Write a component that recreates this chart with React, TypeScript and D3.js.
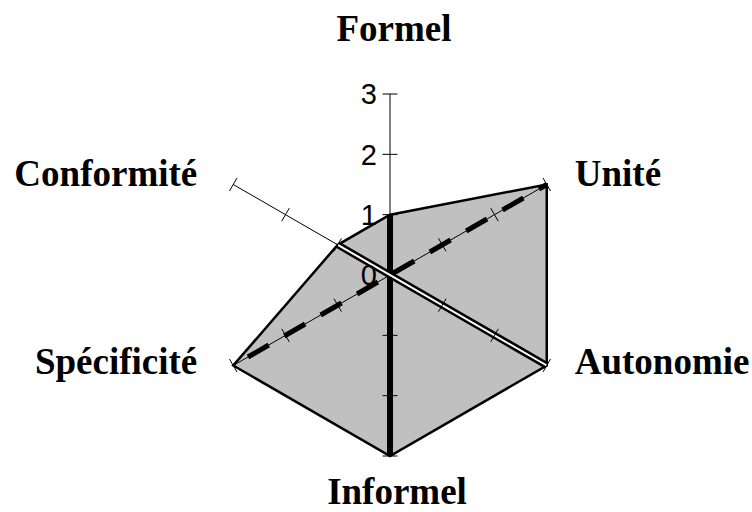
import React from 'react';
import * as d3 from 'd3';

// axes of the radar, clockwise from the top
const categories = ['Formel', 'Unité', 'Autonomie', 'Informel', 'Spécificité', 'Conformité'];
// filled area
const areaValues = [1, 3, 3, 3, 3, 1];
// value axis ticks
const tickValues = [0, 1, 2, 3];

// the three straight lines crossing the centre
const lineFrom = ['Formel', 'Conformité', 'Spécificité'];
const lineFromValues = [1, 1, 3];
const lineTo = ['Informel', 'Autonomie', 'Unité'];
const lineToValues = [3, 3, 3];
const lineKinds = ['solid', 'double', 'dashed'];

const W = 752;
const H = 512;
const cx = 390;
const cy = 275;
const R = 181;

const r = d3.scaleLinear().domain([0, 3]).range([0, R]);
const ang = d3.scaleLinear().domain([0, categories.length]).range([0, 2 * Math.PI]);

const pt = (cat: string, v: number): [number, number] => {
  const a = ang(categories.indexOf(cat));
  return [cx + r(v) * Math.sin(a), cy - r(v) * Math.cos(a)];
};

const area = d3
  .lineRadial<number>()
  .angle((_, i) => ang(i))
  .radius((v) => r(v))
  .curve(d3.curveLinearClosed);

const seg = d3.line<[number, number]>();

const labelFont = '"Liberation Serif", "Times New Roman", serif';
const tickFont = '"Liberation Sans", Arial, sans-serif';

const App = () => {
  const ticks = tickValues.filter((t) => t > 0);

  return (
    <svg width={W} height={H} style={{ position: 'absolute', left: 0, top: 0, display: 'block', background: '#fff' }}>
      <g transform={`translate(${cx},${cy})`}>
        <path d={area(areaValues) ?? ''} fill="#c0c0c0" stroke="none" />
      </g>

      {/* spokes */}
      {categories.map((c) => {
        const [x, y] = pt(c, 3);
        return <line key={c} x1={cx} y1={cy} x2={x} y2={y} stroke="#000" strokeWidth={1} />;
      })}

      <g transform={`translate(${cx},${cy})`}>
        <path d={area(areaValues) ?? ''} fill="none" stroke="#000" strokeWidth={2.5} strokeLinejoin="miter" />
      </g>

      {/* crossing lines */}
      {lineFrom.map((f, i) => {
        const d = seg([pt(f, lineFromValues[i]), pt(lineTo[i], lineToValues[i])]) ?? '';
        const kind = lineKinds[i];
        if (kind === 'double') {
          return (
            <g key={f}>
              <path d={d} stroke="#000" strokeWidth={7} fill="none" />
              <path d={d} stroke="#fff" strokeWidth={2} fill="none" />
            </g>
          );
        }
        if (kind === 'dashed') {
          return (
            <path key={f} d={d} stroke="#000" strokeWidth={5} fill="none" strokeDasharray="24,18" strokeDashoffset={25} />
          );
        }
        return <path key={f} d={d} stroke="#000" strokeWidth={6} fill="none" />;
      })}

      {/* tick marks on every spoke */}
      {categories.map((c) =>
        ticks.map((t) => {
          const a = ang(categories.indexOf(c));
          const [x, y] = pt(c, t);
          const px = Math.cos(a) * 7.5;
          const py = Math.sin(a) * 7.5;
          return (
            <line key={c + t} x1={x - px} y1={y - py} x2={x + px} y2={y + py} stroke="#000" strokeWidth={1} />
          );
        })
      )}

      {/* value labels on the first axis */}
      {tickValues.map((t) => (
        <text
          key={t}
          x={cx - 13}
          y={cy - r(t)}
          dy="0.36em"
          textAnchor="end"
          fontFamily={tickFont}
          fontSize={29}
          fill="#000"
        >
          {t}
        </text>
      ))}

      {/* category labels */}
      {categories.map((c) => {
        const a = ang(categories.indexOf(c));
        const [x, y] = pt(c, 3);
        const s = Math.sin(a);
        const co = Math.cos(a);
        let lx = x;
        let ly = y;
        let anchor: 'start' | 'middle' | 'end' = 'middle';
        if (Math.abs(s) < 0.01) {
          lx = co > 0 ? x + 4 : x + 7;
          ly = co > 0 ? y - 53 : y + 48;
        } else {
          anchor = s > 0 ? 'start' : 'end';
          lx = s > 0 ? x + 28 : x - 36;
          ly = co > 0 ? y + 1 : y + 8;
        }
        return (
          <text
            key={c}
            x={lx}
            y={ly}
            textAnchor={anchor}
            fontFamily={labelFont}
            fontWeight="bold"
            fontSize={37}
            fill="#000"
          >
            {c}
          </text>
        );
      })}
    </svg>
  );
};

export default App;
